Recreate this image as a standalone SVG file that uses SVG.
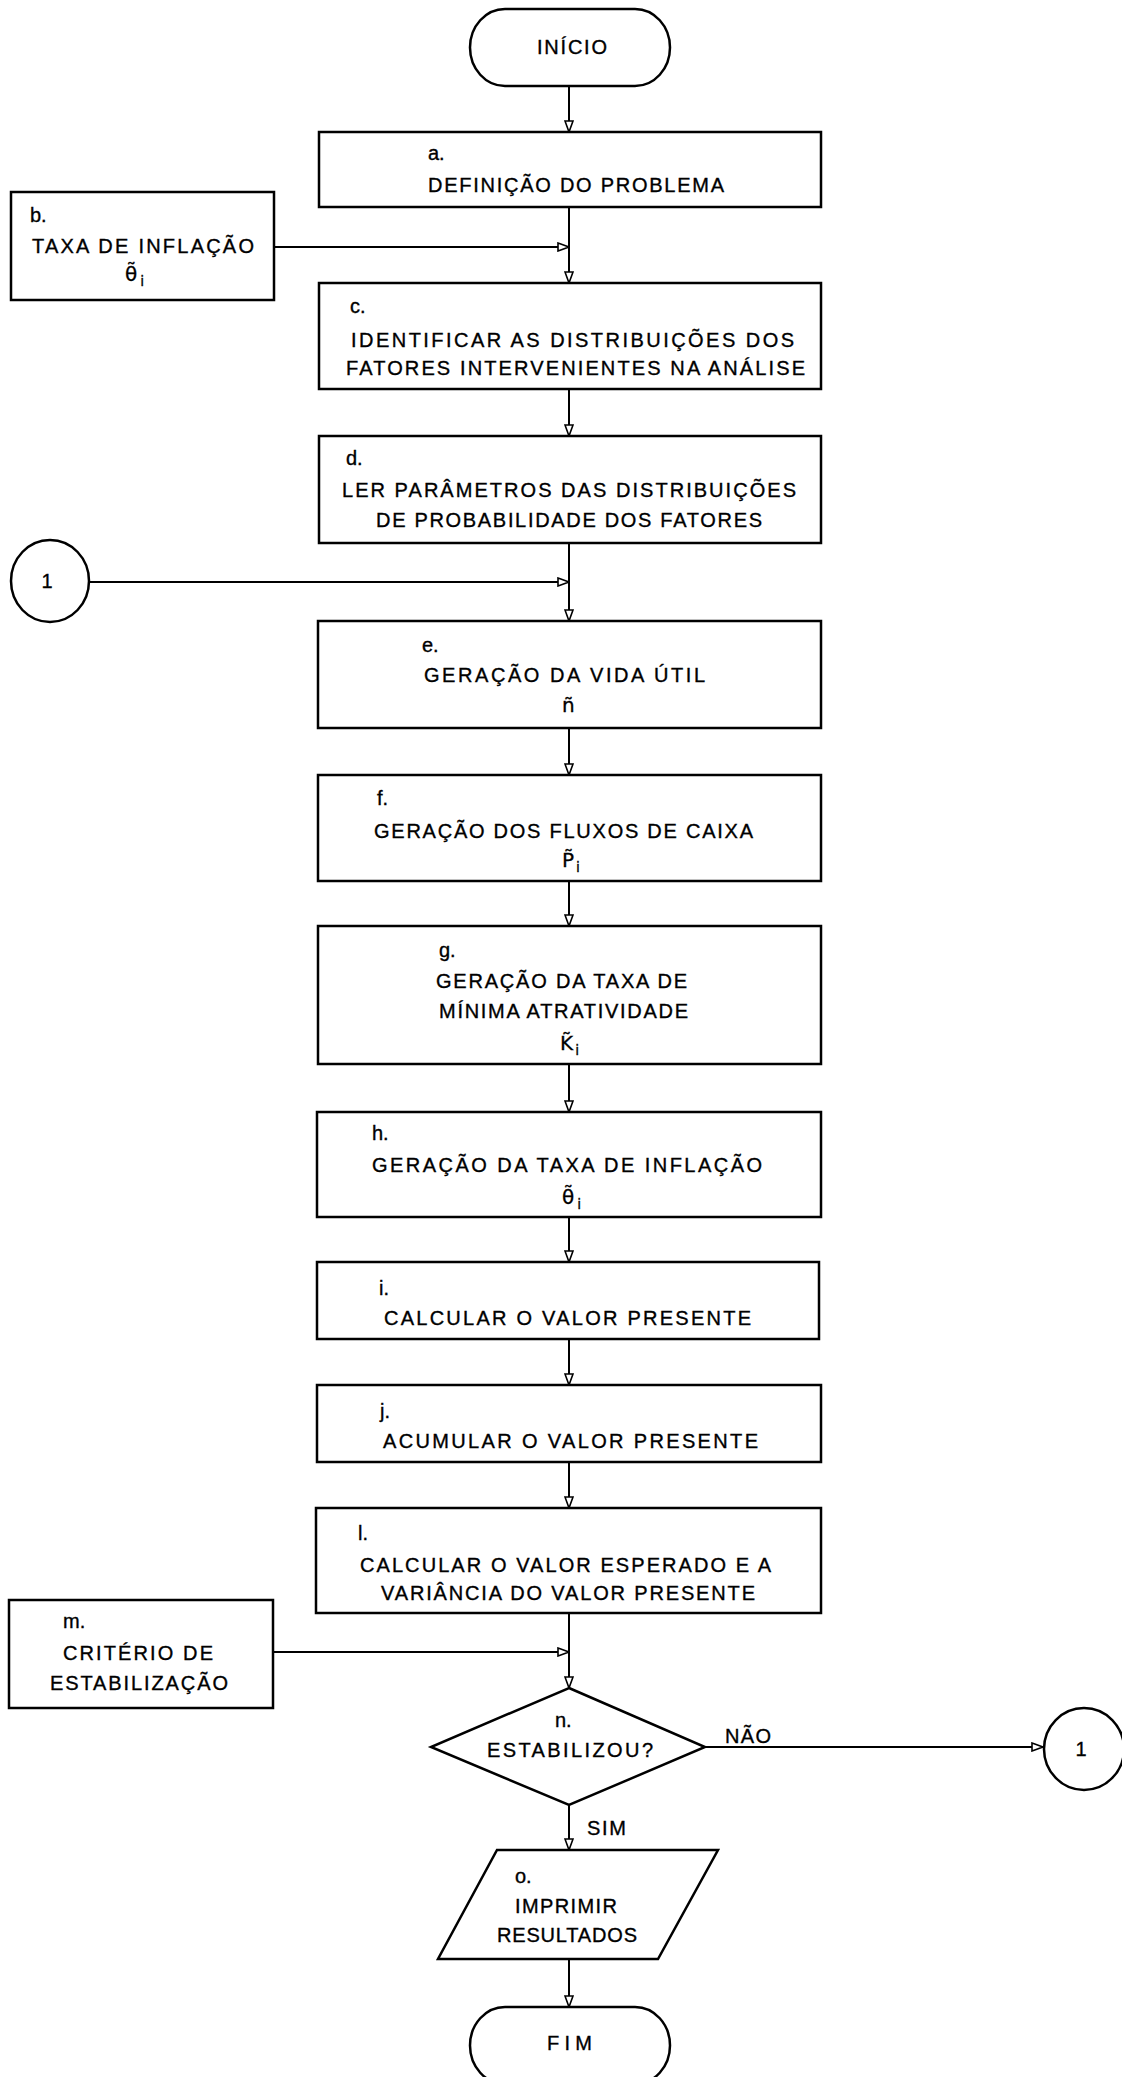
<svg xmlns="http://www.w3.org/2000/svg" width="1122" height="2077" viewBox="0 0 1122 2077">
<style>
.bx{fill:#fff;stroke:#000;stroke-width:2.5}
.ln{fill:none;stroke:#000;stroke-width:2}
.t{font-family:"Liberation Sans",Arial,sans-serif;font-size:20px;fill:#000;stroke:#000;stroke-width:0.35}
.s{font-family:"DejaVu Sans",sans-serif;font-size:20px;fill:#000;stroke:#000;stroke-width:0.3}
.sub{font-size:14px}
</style>
<defs>
<marker id="ar" viewBox="0 0 13 10" refX="12" refY="5" markerWidth="13" markerHeight="10" markerUnits="userSpaceOnUse" orient="auto">
<path d="M1,1 L12,5 L1,9 Z" fill="#fff" stroke="#000" stroke-width="1.6"/>
</marker>
</defs>
<rect width="1122" height="2077" fill="#fff"/>
<g id="connectors" class="ln" marker-end="url(#ar)">
<line x1="569" y1="86" x2="569" y2="132"/>
<line x1="569" y1="207" x2="569" y2="283"/>
<line x1="275" y1="247" x2="569" y2="247"/>
<line x1="569" y1="389" x2="569" y2="436"/>
<line x1="569" y1="543" x2="569" y2="621"/>
<line x1="90" y1="582" x2="569" y2="582"/>
<line x1="569" y1="728" x2="569" y2="775"/>
<line x1="569" y1="881" x2="569" y2="926"/>
<line x1="569" y1="1064" x2="569" y2="1112"/>
<line x1="569" y1="1217" x2="569" y2="1262"/>
<line x1="569" y1="1339" x2="569" y2="1385"/>
<line x1="569" y1="1462" x2="569" y2="1508"/>
<line x1="569" y1="1613" x2="569" y2="1688"/>
<line x1="273" y1="1652" x2="569" y2="1652"/>
<line x1="705" y1="1747" x2="1043" y2="1747"/>
<line x1="569" y1="1805" x2="569" y2="1850"/>
<line x1="569" y1="1959" x2="569" y2="2007"/>
</g>
<g id="inicio">
<path class="bx" d="M505,9 H635 A35,38.5 0 0 1 635,86 H505 A35,38.5 0 0 1 505,9 Z"/>
<text class="t" x="537" y="54" textLength="70" lengthAdjust="spacing">INÍCIO</text>
</g>
<g id="a">
<rect class="bx" x="319" y="132" width="502" height="75"/>
<text class="t" x="428" y="160">a.</text>
<text class="t" x="428" y="192" textLength="296" lengthAdjust="spacing">DEFINIÇÃO DO PROBLEMA</text>
</g>
<g id="b">
<rect class="bx" x="11" y="192" width="263" height="108"/>
<text class="t" x="30" y="222">b.</text>
<text class="t" x="32" y="253" textLength="222" lengthAdjust="spacing">TAXA DE INFLAÇÃO</text>
<text class="s" x="125" y="281">θ̃<tspan class="sub" dx="3" dy="5">i</tspan></text>
</g>
<g id="c">
<rect class="bx" x="319" y="283" width="502" height="106"/>
<text class="t" x="350" y="313">c.</text>
<text class="t" x="351" y="347" textLength="443" lengthAdjust="spacing">IDENTIFICAR AS DISTRIBUIÇÕES DOS</text>
<text class="t" x="346" y="375" textLength="459" lengthAdjust="spacing">FATORES INTERVENIENTES NA ANÁLISE</text>
</g>
<g id="d">
<rect class="bx" x="319" y="436" width="502" height="107"/>
<text class="t" x="346" y="465">d.</text>
<text class="t" x="342" y="497" textLength="454" lengthAdjust="spacing">LER PARÂMETROS DAS DISTRIBUIÇÕES</text>
<text class="t" x="376" y="527" textLength="386" lengthAdjust="spacing">DE PROBABILIDADE DOS FATORES</text>
</g>
<g id="con1a">
<ellipse class="bx" cx="50" cy="581" rx="39" ry="41"/>
<text class="t" x="47" y="588" text-anchor="middle">1</text>
</g>
<g id="e">
<rect class="bx" x="318" y="621" width="503" height="107"/>
<text class="t" x="422" y="652">e.</text>
<text class="t" x="424" y="682" textLength="281" lengthAdjust="spacing">GERAÇÃO DA VIDA ÚTIL</text>
<text class="s" x="562" y="712">ñ</text>
</g>
<g id="f">
<rect class="bx" x="318" y="775" width="503" height="106"/>
<text class="t" x="377" y="805">f.</text>
<text class="t" x="374" y="838" textLength="379" lengthAdjust="spacing">GERAÇÃO DOS FLUXOS DE CAIXA</text>
<text class="s" x="562" y="867">P̃<tspan class="sub" dx="2" dy="5">i</tspan></text>
</g>
<g id="g">
<rect class="bx" x="318" y="926" width="503" height="138"/>
<text class="t" x="439" y="957">g.</text>
<text class="t" x="436" y="988" textLength="251" lengthAdjust="spacing">GERAÇÃO DA TAXA DE</text>
<text class="t" x="439" y="1018" textLength="249" lengthAdjust="spacing">MÍNIMA ATRATIVIDADE</text>
<text class="s" x="560" y="1050">K̃<tspan class="sub" dx="2" dy="5">i</tspan></text>
</g>
<g id="h">
<rect class="bx" x="317" y="1112" width="504" height="105"/>
<text class="t" x="372" y="1140">h.</text>
<text class="t" x="372" y="1172" textLength="390" lengthAdjust="spacing">GERAÇÃO DA TAXA DE INFLAÇÃO</text>
<text class="s" x="562" y="1204">θ̃<tspan class="sub" dx="3" dy="5">i</tspan></text>
</g>
<g id="i">
<rect class="bx" x="317" y="1262" width="502" height="77"/>
<text class="t" x="379" y="1295">i.</text>
<text class="t" x="384" y="1325" textLength="367" lengthAdjust="spacing">CALCULAR O VALOR PRESENTE</text>
</g>
<g id="j">
<rect class="bx" x="317" y="1385" width="504" height="77"/>
<text class="t" x="380" y="1418">j.</text>
<text class="t" x="383" y="1448" textLength="375" lengthAdjust="spacing">ACUMULAR O VALOR PRESENTE</text>
</g>
<g id="l">
<rect class="bx" x="316" y="1508" width="505" height="105"/>
<text class="t" x="358" y="1540">l.</text>
<text class="t" x="360" y="1572" textLength="411" lengthAdjust="spacing">CALCULAR O VALOR ESPERADO E A</text>
<text class="t" x="381" y="1600" textLength="374" lengthAdjust="spacing">VARIÂNCIA DO VALOR PRESENTE</text>
</g>
<g id="m">
<rect class="bx" x="9" y="1600" width="264" height="108"/>
<text class="t" x="63" y="1628">m.</text>
<text class="t" x="63" y="1660" textLength="150" lengthAdjust="spacing">CRITÉRIO DE</text>
<text class="t" x="50" y="1690" textLength="178" lengthAdjust="spacing">ESTABILIZAÇÃO</text>
</g>
<g id="n">
<path class="bx" d="M569,1688 L705,1747 L569,1805 L431,1747 Z"/>
<text class="t" x="555" y="1727">n.</text>
<text class="t" x="487" y="1757" textLength="166" lengthAdjust="spacing">ESTABILIZOU?</text>
<text class="t" x="725" y="1743" textLength="46" lengthAdjust="spacing">NÃO</text>
</g>
<g id="con1b">
<ellipse class="bx" cx="1084" cy="1749" rx="40" ry="41"/>
<text class="t" x="1081" y="1756" text-anchor="middle">1</text>
</g>
<g id="o">
<text class="t" x="587" y="1835" textLength="39" lengthAdjust="spacing">SIM</text>
<path class="bx" d="M497,1850 L718,1850 L658,1959 L438,1959 Z"/>
<text class="t" x="515" y="1883">o.</text>
<text class="t" x="515" y="1913" textLength="102" lengthAdjust="spacing">IMPRIMIR</text>
<text class="t" x="497" y="1942" textLength="140" lengthAdjust="spacing">RESULTADOS</text>
</g>
<g id="fim">
<path class="bx" d="M505,2007 H635 A35,38.5 0 0 1 635,2084 H505 A35,38.5 0 0 1 505,2007 Z"/>
<text class="t" x="547" y="2050" textLength="45" lengthAdjust="spacing">FIM</text>
</g>
</svg>
